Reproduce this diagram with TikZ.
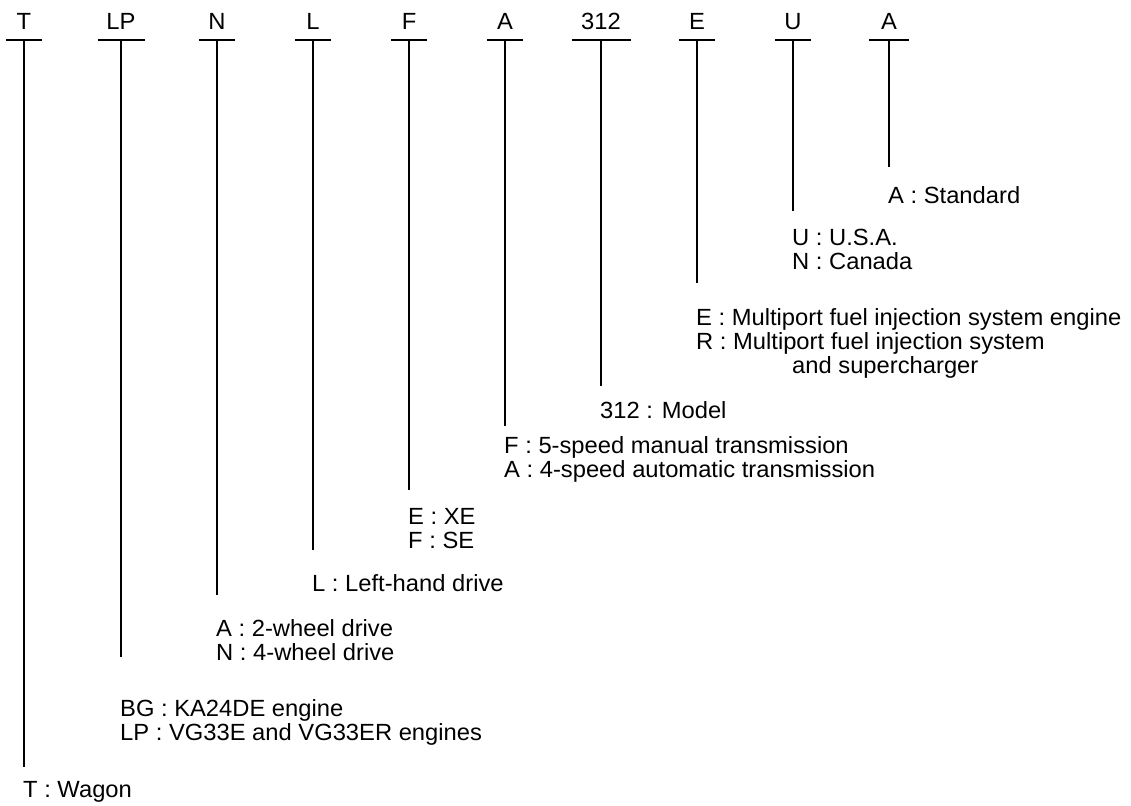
\documentclass[tikz,border=0pt]{standalone}
\usepackage{fontspec}
\setmainfont[FakeStretch=1.015]{Liberation Sans}
\usetikzlibrary{calc}
\begin{document}
\begin{tikzpicture}[x=1pt,y=-1pt,
  code/.style={anchor=base, inner sep=0pt, font=\fontsize{23.4}{24}\selectfont},
  desc/.style={anchor=base west, inner sep=0pt, font=\fontsize{23.4}{24}\selectfont},
  bar/.style={line width=2pt},
  stem/.style={line width=1.1pt}]
\useasboundingbox[fill=white] (0,0) rectangle (1131,805);
% code letters
\foreach \n/\x/\t/\h/\e in {1/24/T/18/767, 2/121/LP/23.5/657, 3/217/N/18/595, 4/313/L/18/550, 5/409/F/18/490, 6/505/A/18/426, 7/601/312/29.5/386, 8/697/E/18/283, 9/793/U/18/211, 10/889/A/20/167}{
  \node[code] (k\n) at (\x,30) {\t};
  \coordinate (b\n) at (\x,40);
  \coordinate (e\n) at (\x,\e);
  \draw[bar] ($(b\n)+(-\h,0)$) -- ($(b\n)+(\h,0)$);
  \draw[stem] (b\n) -- (e\n);
}
% descriptions
\node[desc] (d1) at (23,797) {T : Wagon};
\node[desc] (d2a) at (120,716) {BG : KA24DE engine};
\node[desc] (d2b) at (120,740) {LP : VG33E and VG33ER engines};
\node[desc] (d3a) at (216,636) {A : 2-wheel drive};
\node[desc] (d3b) at (216,660) {N : 4-wheel drive};
\node[desc] (d4) at (312,591) {L : Left-hand drive};
\node[desc] (d5a) at (408,524) {E : XE};
\node[desc] (d5b) at (408,548) {F : SE};
\node[desc] (d6a) at (504,453) {F : 5-speed manual transmission};
\node[desc] (d6b) at (504,477) {A : 4-speed automatic transmission};
\node[desc] (d7) at (600,418) {312 : Model};
\node[desc] (d8a) at (696,325) {E : Multiport fuel injection system engine};
\node[desc] (d8b) at (696,349) {R : Multiport fuel injection system};
\node[desc] (d8c) at (792,373) {and supercharger};
\node[desc] (d9a) at (792,245) {U : U.S.A.};
\node[desc] (d9b) at (792,269) {N : Canada};
\node[desc] (d10) at (888,203) {A : Standard};
\end{tikzpicture}
\end{document}
